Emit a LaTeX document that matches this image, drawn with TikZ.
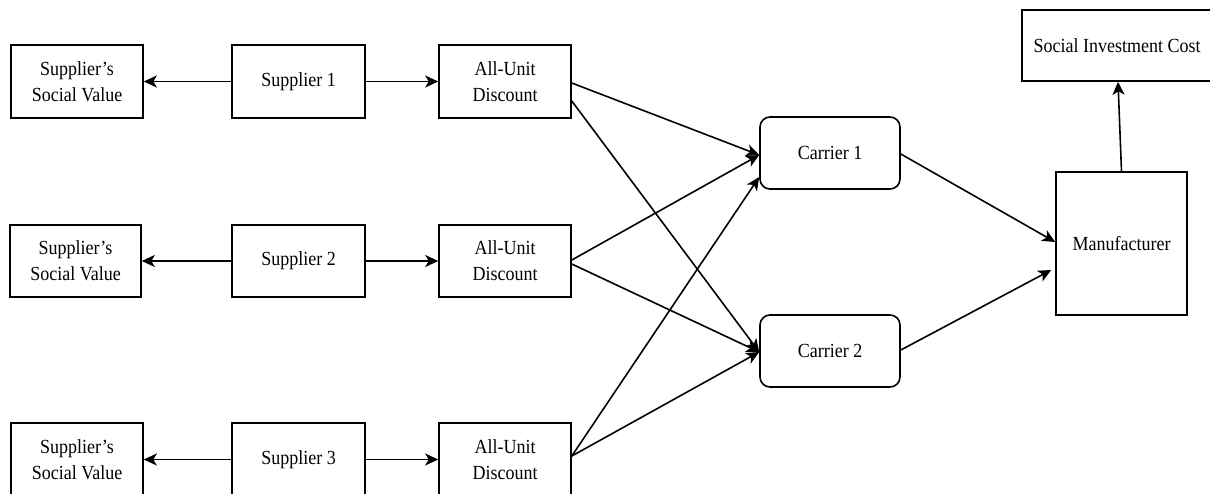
\documentclass[tikz,border=0pt]{standalone}
\usepackage{fontspec}
\setmainfont{Liberation Serif}[FakeStretch=0.9]
\usetikzlibrary{arrows.meta}
\tikzset{
  box/.style={draw, line width=1.6pt, align=center, inner sep=0pt,
    font=\fontsize{20}{26}\selectfont, minimum width=132pt, minimum height=73pt},
  rbox/.style={box, rounded corners=10pt, minimum width=140pt, minimum height=72pt},
  conn/.style={line width=1.6pt, -{Stealth[length=13pt,width=12pt,inset=3.5pt]}}
}
\begin{document}
\begin{tikzpicture}[x=1pt,y=-1pt]
\useasboundingbox (0,0) rectangle (1210,493);
% row 1
\node[box] (ssv1) at (77,81.5) {Supplier's\\Social Value};
\node[box, minimum width=133pt] (sup1) at (298.5,81.5) {Supplier 1};
\node[box] (aud1) at (505,81.5) {All-Unit\\Discount};
% row 2
\node[box, minimum width=131pt, minimum height=72pt] (ssv2) at (75.5,261) {Supplier's\\Social Value};
\node[box, minimum width=133pt, minimum height=72pt] (sup2) at (298.5,261) {Supplier 2};
\node[box, minimum height=72pt] (aud2) at (505,261) {All-Unit\\Discount};
% row 3
\node[box] (ssv3) at (77,459.5) {Supplier's\\Social Value};
\node[box, minimum width=133pt] (sup3) at (298.5,459.5) {Supplier 3};
\node[box] (aud3) at (505,459.5) {All-Unit\\Discount};
% carriers
\node[rbox] (car1) at (830,153) {Carrier 1};
\node[rbox] (car2) at (830,351) {Carrier 2};
% manufacturer and cost
\node[box, minimum width=131pt, minimum height=143pt] (man) at (1121.5,243.5) {Manufacturer};
\node[box, minimum width=190pt, minimum height=71pt] (sic) at (1117,45.5) {Social Investment Cost};
% supplier edges
\foreach \i in {1,2,3}{
  \draw[conn] (sup\i.west) -- (ssv\i.east);
  \draw[conn] (sup\i.east) -- (aud\i.west);
}
% discount to carriers
\draw[conn] ([yshift=-1.5pt]aud1.east) -- ([yshift=-2pt]car1.west);
\draw[conn] ([yshift=-19.5pt]aud1.east) -- ([yshift=-1pt]car2.west);
\draw[conn] ([yshift=1pt]aud2.east) -- ([yshift=-2pt]car1.west);
\draw[conn] ([yshift=-3pt]aud2.east) -- ([yshift=-1pt]car2.west);
\draw[conn] ([yshift=3.5pt]aud3.east) -- ([yshift=-24pt]car1.west);
\draw[conn] ([yshift=3.5pt]aud3.east) -- ([yshift=-1pt]car2.west);
% carriers to manufacturer
\draw[conn] ([yshift=-1pt]car1.east) -- ([yshift=1.5pt]man.west);
\draw[conn] ([yshift=1pt]car2.east) -- ([xshift=-4pt,yshift=-26.5pt]man.west);
% manufacturer to cost
\draw[conn] (man.north) -- ([xshift=1pt]sic.south);
\end{tikzpicture}
\end{document}
